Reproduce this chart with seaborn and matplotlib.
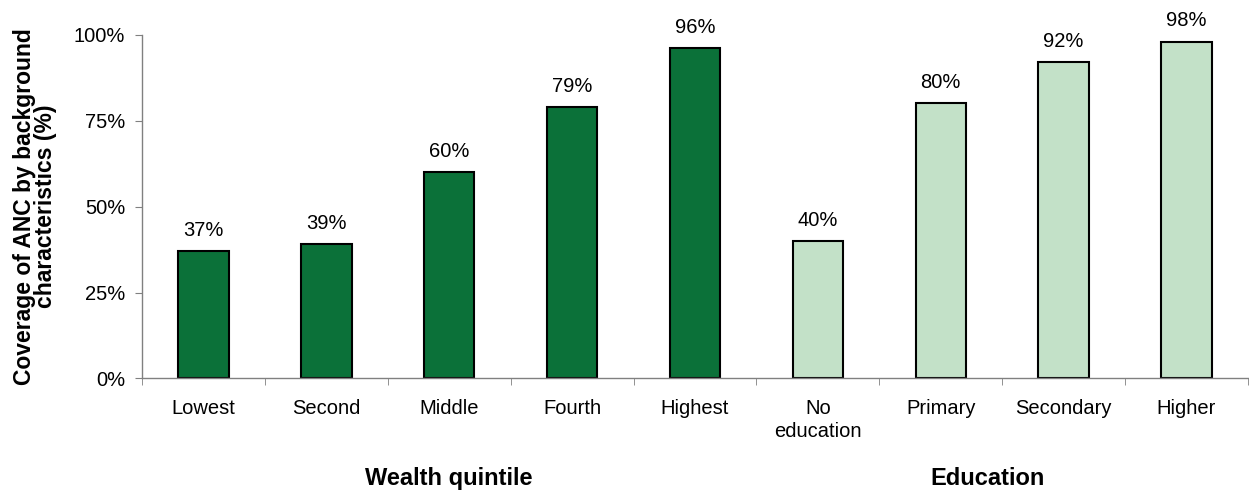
import pandas as pd
import matplotlib.pyplot as plt
import seaborn as sns
from matplotlib.ticker import FixedLocator, PercentFormatter

categories = ["Lowest", "Second", "Middle", "Fourth", "Highest",
              "No\neducation", "Primary", "Secondary", "Higher"]
coverage = [37, 39, 60, 79, 96, 40, 80, 92, 98]
groups = ["Wealth quintile"] * 5 + ["Education"] * 4

veri = pd.DataFrame({"kategori": categories, "kapsam": coverage, "grup": groups})
renkler = {"Wealth quintile": "#0b7139", "Education": "#c3e1c8"}

sns.set_style("white")
plt.rcParams["font.family"] = ["Liberation Sans", "DejaVu Sans"]
plt.rcParams["text.color"] = "black"
plt.rcParams["xtick.color"] = "black"
plt.rcParams["ytick.color"] = "black"
plt.rcParams["axes.labelcolor"] = "black"

fig = plt.figure(figsize=(12.49, 4.92), dpi=100)
ax = fig.add_axes([0.1137, 0.2307, 0.8855, 0.6988])

sns.barplot(x="kategori", y="kapsam", data=veri, hue="grup", palette=renkler,
            dodge=False, width=0.41, edgecolor="black", linewidth=1.5,
            saturation=1, legend=False, ax=ax, order=categories)

# degerleri cubuklarin ustune yaz
for bar, val in zip(ax.patches, coverage):
    ax.annotate(f"{val}%", (bar.get_x() + bar.get_width() / 2, bar.get_height()),
                xytext=(0, 11), textcoords="offset points", ha="center", va="baseline",
                fontsize=14.5, annotation_clip=False)

ax.set_xlim(-0.5, 8.5)
ax.set_ylim(0, 100)
ax.set_yticks([0, 25, 50, 75, 100])
ax.yaxis.set_major_formatter(PercentFormatter(decimals=0))
ax.xaxis.set_minor_locator(FixedLocator([i - 0.5 for i in range(10)]))
ax.tick_params(axis="x", which="major", length=0, labelsize=14.5, pad=15)
ax.tick_params(axis="x", which="minor", length=5, direction="out", color="#808080", bottom=True)
ax.tick_params(axis="y", length=5, direction="out", color="#808080", left=True, labelsize=14.5, pad=7)
for lbl in ax.get_xticklabels():
    lbl.set_linespacing(1.25)

for s in ["top", "right"]:
    ax.spines[s].set_visible(False)
for s in ["left", "bottom"]:
    ax.spines[s].set_color("#808080")
    ax.spines[s].set_linewidth(1)

ax.set_xlabel("")
ax.set_ylabel("Coverage of ANC by background\ncharacteristics (%)", fontsize=16.5,
              fontweight="bold", labelpad=12, linespacing=0.9, multialignment="center")

# grup basliklari
ax.text(2, -29, "Wealth quintile", ha="center", va="center", fontsize=17,
        fontweight="bold", transform=ax.transData)
ax.text(6.38, -29, "Education", ha="center", va="center", fontsize=17,
        fontweight="bold", transform=ax.transData)

fig.savefig("out.png", dpi=100)
